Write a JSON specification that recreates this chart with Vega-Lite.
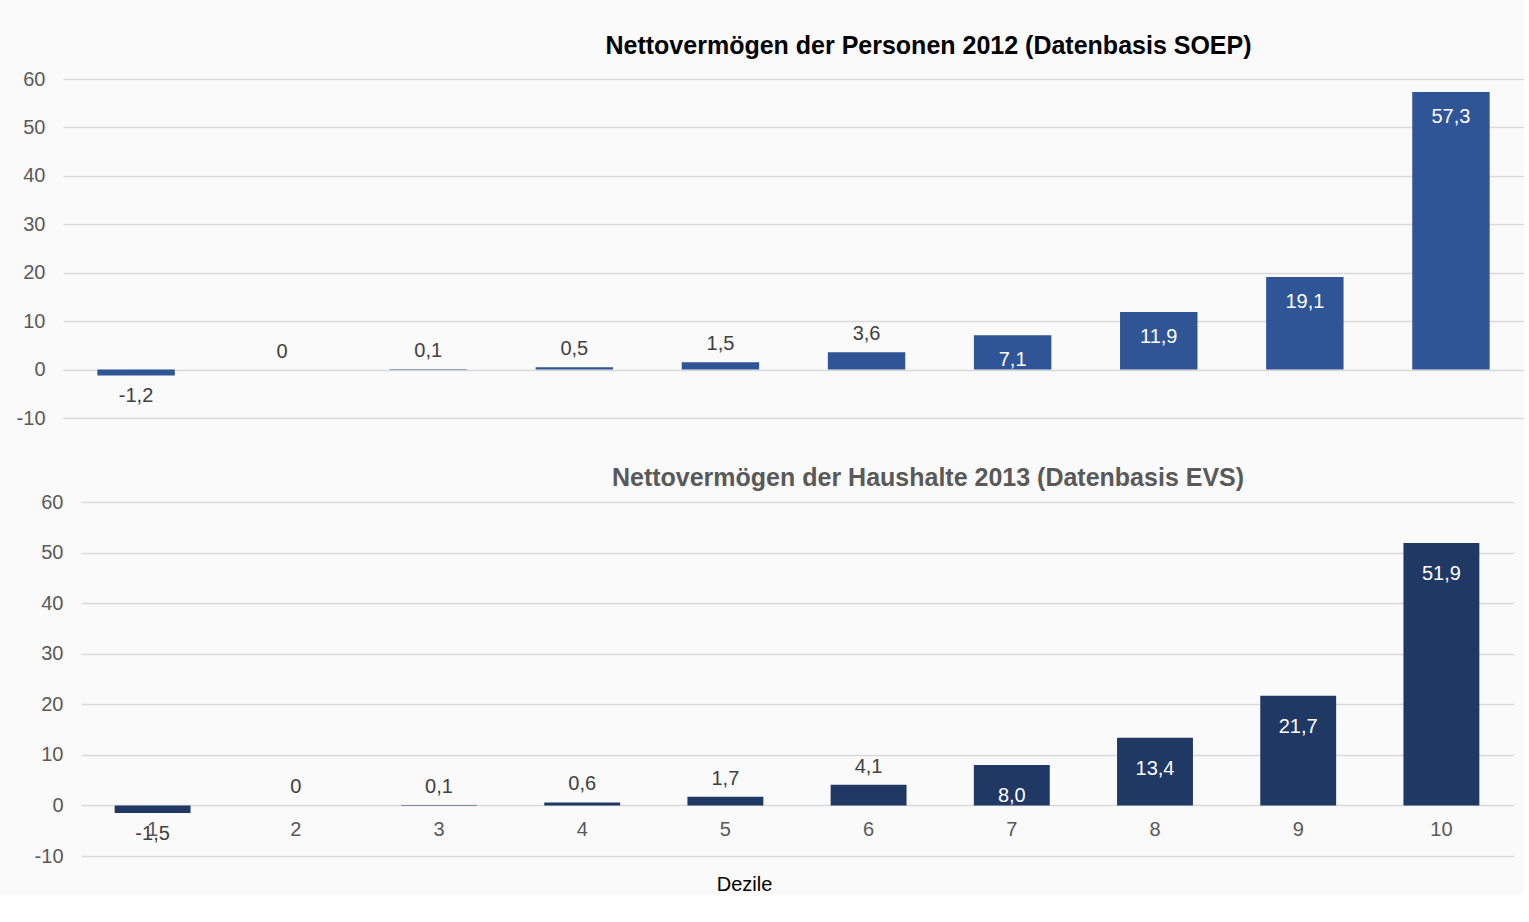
{
  "$schema": "https://vega.github.io/schema/vega-lite/v6.json",
  "background": "#fafafa",
  "padding": {"left": 16, "top": 34, "right": 0, "bottom": 0},
  "spacing": 38,
  "config": {
    "font": "Liberation Sans",
    "view": {"stroke": null},
    "locale": {"number": {"decimal": ",", "thousands": ".", "grouping": [3], "currency": ["", " €"], "minus": "-"}},
    "axis": {"labelFont": "Liberation Sans", "titleFont": "Liberation Sans"}
  },
  "datasets": {
    "soep": [
      {"dezil": 1, "wert": -1.2, "label": "-1,2"},
      {"dezil": 2, "wert": 0, "label": "0"},
      {"dezil": 3, "wert": 0.1, "label": "0,1"},
      {"dezil": 4, "wert": 0.5, "label": "0,5"},
      {"dezil": 5, "wert": 1.5, "label": "1,5"},
      {"dezil": 6, "wert": 3.6, "label": "3,6"},
      {"dezil": 7, "wert": 7.1, "label": "7,1"},
      {"dezil": 8, "wert": 11.9, "label": "11,9"},
      {"dezil": 9, "wert": 19.1, "label": "19,1"},
      {"dezil": 10, "wert": 57.3, "label": "57,3"}
    ],
    "evs": [
      {"dezil": 1, "wert": -1.5, "label": "-1,5"},
      {"dezil": 2, "wert": 0, "label": "0"},
      {"dezil": 3, "wert": 0.1, "label": "0,1"},
      {"dezil": 4, "wert": 0.6, "label": "0,6"},
      {"dezil": 5, "wert": 1.7, "label": "1,7"},
      {"dezil": 6, "wert": 4.1, "label": "4,1"},
      {"dezil": 7, "wert": 8.0, "label": "8,0"},
      {"dezil": 8, "wert": 13.4, "label": "13,4"},
      {"dezil": 9, "wert": 21.7, "label": "21,7"},
      {"dezil": 10, "wert": 51.9, "label": "51,9"}
    ]
  },
  "vconcat": [
    {
      "width": 1461,
      "height": 339,
      "data": {"name": "soep"},
      "title": {
        "text": "Nettovermögen der Personen 2012 (Datenbasis SOEP)",
        "fontSize": 25,
        "fontWeight": "bold",
        "color": "#000000",
        "anchor": "middle",
        "dx": 135,
        "offset": 10
      },
      "encoding": {
        "x": {
          "field": "dezil", "type": "ordinal", "axis": null,
          "scale": {"paddingInner": 0.47, "paddingOuter": 0.235}
        },
        "y": {
          "field": "wert", "type": "quantitative",
          "scale": {"domain": [-10, 60], "nice": false, "zero": false},
          "axis": {
            "title": null, "values": [-10, 0, 10, 20, 30, 40, 50, 60], "format": "d",
            "domain": false, "ticks": false, "labelPadding": 18,
            "labelFontSize": 20, "labelColor": "#595959",
            "gridColor": "#d9d9d9", "gridWidth": 1.5
          }
        }
      },
      "layer": [
        {"mark": {"type": "bar", "color": "#2f5597"}},
        {
          "transform": [{"filter": "datum.wert >= 0 && datum.wert < 7"}],
          "mark": {"type": "text", "baseline": "alphabetic", "dy": -12, "fontSize": 20, "color": "#404040"},
          "encoding": {"text": {"field": "label"}}
        },
        {
          "transform": [{"filter": "datum.wert < 0"}],
          "mark": {"type": "text", "baseline": "alphabetic", "dy": 27, "fontSize": 20, "color": "#404040"},
          "encoding": {"text": {"field": "label"}}
        },
        {
          "transform": [{"filter": "datum.wert >= 7"}],
          "mark": {"type": "text", "baseline": "middle", "dy": 25, "fontSize": 20, "color": "#ffffff"},
          "encoding": {"text": {"field": "label"}}
        }
      ]
    },
    {
      "width": 1450,
      "height": 354,
      "data": {"name": "evs"},
      "title": {
        "text": "Nettovermögen der Haushalte 2013 (Datenbasis EVS)",
        "fontSize": 25,
        "fontWeight": "bold",
        "color": "#595959",
        "anchor": "middle",
        "dx": 140,
        "offset": 1
      },
      "encoding": {
        "x": {
          "field": "dezil", "type": "ordinal",
          "scale": {"paddingInner": 0.47, "paddingOuter": 0.235, "range": [18, 1450]},
          "axis": {
            "title": "Dezile", "titleFontSize": 20, "titleFontWeight": "normal", "titleColor": "#000000",
            "titleX": 681, "titlePadding": 35,
            "labelAngle": 0, "labelFontSize": 20, "labelColor": "#595959", "labelPadding": 14,
            "domain": false, "ticks": false, "offset": -51
          }
        },
        "y": {
          "field": "wert", "type": "quantitative",
          "scale": {"domain": [-10, 60], "nice": false, "zero": false},
          "axis": {
            "title": null, "values": [-10, 0, 10, 20, 30, 40, 50, 60], "format": "d",
            "domain": false, "ticks": false, "labelPadding": 18, "offset": -18,
            "labelFontSize": 20, "labelColor": "#595959",
            "gridColor": "#d9d9d9", "gridWidth": 1.5
          }
        }
      },
      "layer": [
        {"mark": {"type": "bar", "color": "#203864"}},
        {
          "transform": [{"filter": "datum.wert >= 0 && datum.wert < 7"}],
          "mark": {"type": "text", "baseline": "alphabetic", "dy": -12, "fontSize": 20, "color": "#404040"},
          "encoding": {"text": {"field": "label"}}
        },
        {
          "transform": [{"filter": "datum.wert < 0"}],
          "mark": {"type": "text", "baseline": "alphabetic", "dy": 27, "fontSize": 20, "color": "#404040"},
          "encoding": {"text": {"field": "label"}}
        },
        {
          "transform": [{"filter": "datum.wert >= 7"}],
          "mark": {"type": "text", "baseline": "middle", "dy": 31, "fontSize": 20, "color": "#ffffff"},
          "encoding": {"text": {"field": "label"}}
        }
      ]
    }
  ]
}
